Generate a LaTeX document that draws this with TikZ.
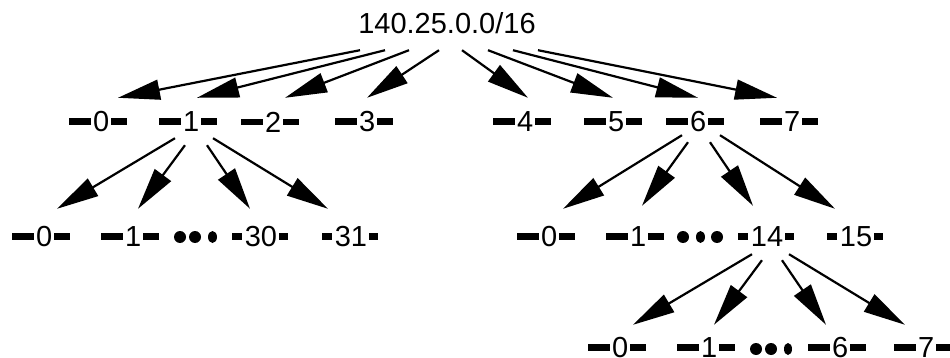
\documentclass[tikz,border=0pt]{standalone}
\usepackage{fontspec}
\setmainfont{Liberation Sans}
\usetikzlibrary{arrows.meta}
\newcommand\lbl[3]{\rule[7pt]{#2}{6.5pt}\hspace{2.5pt}#1\hspace{2pt}\rule[7pt]{#3}{6.5pt}}
\newcommand\one[1]{\lbl{#1}{22pt}{16pt}}
\newcommand\two[1]{\lbl{#1}{10pt}{8.5pt}}
\begin{document}
\begin{tikzpicture}[x=1pt,y=-1pt,
  lab/.style={inner sep=0pt,minimum height=48pt,font=\fontsize{29}{34}\selectfont},
  arr/.style={line width=2.2pt,-{Triangle[length=42pt,width=20pt]}}]
\useasboundingbox (0,0) rectangle (950,358);
% root
\node[lab,minimum height=54pt] (r) at (447,23) {140.25.0.0/16};
% level 1
\node[lab] (a0) at (98,122) {\one{0}};
\node[lab] (a1) at (188,122) {\one{1}};
\node[lab] (a2) at (270,122) {\one{2}};
\node[lab] (a3) at (364,122) {\one{3}};
\node[lab] (a4) at (522,122) {\one{4}};
\node[lab] (a5) at (613,122) {\one{5}};
\node[lab] (a6) at (695,122) {\one{6}};
\node[lab] (a7) at (789,122) {\one{7}};
% level 2 left
\node[lab] (b0) at (41,237) {\one{0}};
\node[lab] (b1) at (130,237) {\one{1}};
\node[lab] (b30) at (260,237) {\two{30}};
\node[lab] (b31) at (350,237) {\two{31}};
% level 2 right
\node[lab] (c0) at (546,237) {\one{0}};
\node[lab] (c1) at (635,237) {\one{1}};
\node[lab] (c14) at (766,237) {\two{14}};
\node[lab] (c15) at (855,237) {\two{15}};
% level 3
\node[lab] (d0) at (617,348) {\one{0}};
\node[lab] (d1) at (706,348) {\one{1}};
\node[lab] (d6) at (837,348) {\one{6}};
\node[lab] (d7) at (923,348) {\one{7}};
% dots
\fill (180,237) circle (6pt) (195,237) circle (6pt) (212.5,237) ellipse (4.5pt and 6pt);
\fill (683,237) circle (6pt) (700.5,237) ellipse (4.5pt and 6pt) (717,237) circle (6pt);
\fill (756,349) circle (6pt) (771,349) circle (6pt) (788,349) ellipse (4pt and 6pt);
% arrows from root
\draw[arr] ([xshift=-87pt]r.south) -- ([xshift=20pt]a0.north);
\draw[arr] ([xshift=-62pt]r.south) -- ([xshift=9pt]a1.north);
\draw[arr] ([xshift=-38pt]r.south) -- ([xshift=15pt]a2.north);
\draw[arr] ([xshift=-8pt]r.south) -- ([xshift=3pt]a3.north);
\draw[arr] ([xshift=15pt]r.south) -- ([xshift=6pt]a4.north);
\draw[arr] ([xshift=41pt]r.south) -- ([xshift=0pt]a5.north);
\draw[arr] ([xshift=66pt]r.south) -- ([xshift=3pt]a6.north);
\draw[arr] ([xshift=91pt]r.south) -- ([xshift=-12pt]a7.north);
% arrows from a1
\draw[arr] ([xshift=-13pt,yshift=8pt]a1.south) -- ([xshift=16pt,yshift=4pt]b0.north);
\draw[arr] ([xshift=-3pt,yshift=1pt]a1.south) -- ([xshift=8pt,yshift=4pt]b1.north);
\draw[arr] ([xshift=19pt,yshift=1pt]a1.south) -- ([xshift=-10pt,yshift=4pt]b30.north);
\draw[arr] ([xshift=25pt,yshift=8pt]a1.south) -- ([xshift=-22pt,yshift=4pt]b31.north);
% arrows from a6
\draw[arr] ([xshift=-13pt,yshift=11pt]a6.south) -- ([xshift=17pt,yshift=4pt]c0.north);
\draw[arr] ([xshift=-7pt,yshift=4pt]a6.south) -- ([xshift=7pt,yshift=7pt]c1.north);
\draw[arr] ([xshift=15pt,yshift=4pt]a6.south) -- ([xshift=-13pt,yshift=7pt]c14.north);
\draw[arr] ([xshift=25pt,yshift=11pt]a6.south) -- ([xshift=-20pt,yshift=4pt]c15.north);
% arrows from c14
\draw[arr] ([xshift=-14pt,yshift=7pt]c14.south) -- ([xshift=16pt,yshift=-1pt]d0.north);
\draw[arr] ([xshift=-4pt,yshift=1pt]c14.south) -- ([xshift=8pt,yshift=-1pt]d1.north);
\draw[arr] ([xshift=16pt,yshift=1pt]c14.south) -- ([xshift=-11pt,yshift=-1pt]d6.north);
\draw[arr] ([xshift=23pt,yshift=7pt]c14.south) -- ([xshift=-18pt,yshift=-1pt]d7.north);
\end{tikzpicture}
\end{document}
